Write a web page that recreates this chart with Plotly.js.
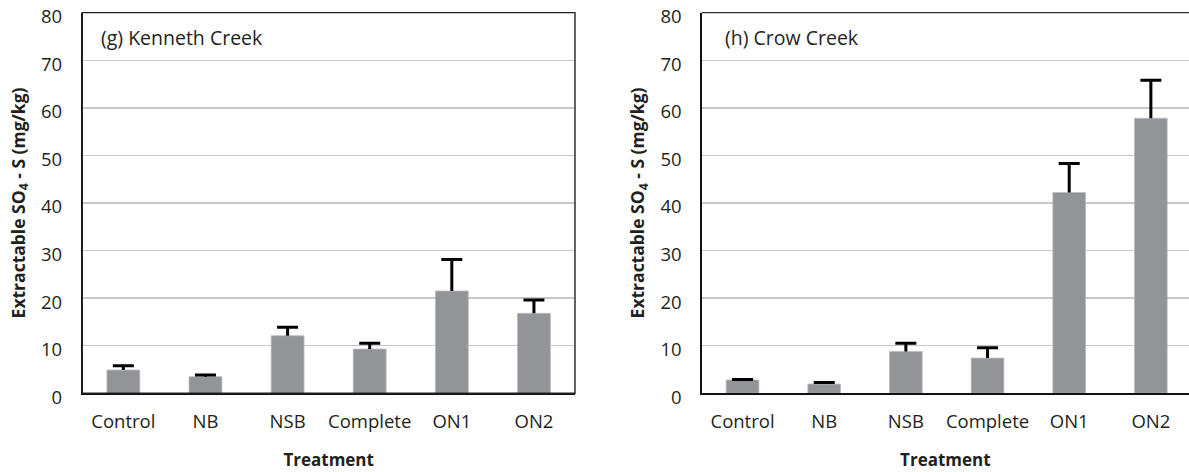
<!DOCTYPE html>
<html>
<head>
<meta charset="utf-8">
<script src="https://cdn.plot.ly/plotly-3.0.1.min.js"></script>
<style>
  html, body { margin: 0; padding: 0; background: #fff; }
  #chart { width: 1189px; height: 472px; }
</style>
</head>
<body>
<div id="chart"></div>
<script>
// Treatments on the x axis
const treatments = ["Control", "NB", "NSB", "Complete", "ON1", "ON2"];

// (g) Kenneth Creek: mean extractable SO4-S (mg/kg) and upper error
const kennethMean = [4.9, 3.5, 12.1, 9.3, 21.5, 16.8];
const kennethErr  = [0.9, 0.35, 1.8, 1.2, 6.6, 2.8];

// (h) Crow Creek: mean extractable SO4-S (mg/kg) and upper error
const crowMean = [2.8, 1.95, 8.8, 7.4, 42.2, 57.8];
const crowErr  = [0.1, 0.3, 1.7, 2.2, 6.1, 8.0];

// Y axis ticks
const yTicks = [0, 10, 20, 30, 40, 50, 60, 70, 80];

const W = 1189, H = 472;
const px = v => v / W;          // horizontal pixel -> paper fraction
const py = v => (H - v) / H;    // vertical pixel (from top) -> paper fraction

const barColor = "#939498";
const textColor = "#231f20";
const fontFamily = "'Open Sans', 'Noto Sans', sans-serif";

function barTrace(y, xa, ya) {
  return {
    type: "bar",
    x: treatments,
    y: y,
    xaxis: xa,
    yaxis: ya,
    width: 0.4,
    marker: { color: barColor, line: { color: "#b9babd", width: 0.8 } },
    hoverinfo: "x+y",
    showlegend: false
  };
}

// One-sided (upper) error whisker: a cap marker at mean + err with a stem down to the bar top
function whiskerTrace(mean, err, xa, ya) {
  return {
    type: "scatter",
    mode: "markers",
    x: treatments,
    y: mean.map((m, i) => m + err[i]),
    xaxis: xa,
    yaxis: ya,
    marker: { symbol: "line-ew", size: 15, line: { color: "#000", width: 3 } },
    error_y: {
      type: "data",
      symmetric: false,
      array: err.map(() => 0),
      arrayminus: err,
      color: "#000",
      thickness: 3,
      width: 0
    },
    hoverinfo: "skip",
    showlegend: false
  };
}

function xAxis(domain, range, anchor) {
  return {
    domain: domain,
    range: range,
    anchor: anchor,
    type: "category",
    showgrid: false,
    showline: true,
    linecolor: "#111",
    linewidth: 1.4,
    ticks: "outside",
    ticklen: 11,
    tickcolor: "rgba(0,0,0,0)",
    tickfont: { family: fontFamily, size: 18.5, color: textColor },
    automargin: false,
    fixedrange: true,
    title: {
      text: "<b>Treatment</b>",
      font: { family: fontFamily, size: 17, color: textColor },
      standoff: 22
    }
  };
}

function yAxis(anchor) {
  return {
    domain: [py(393.3), py(12.6)],
    range: [0, 80.02],
    anchor: anchor,
    tickvals: yTicks,
    showgrid: true,
    gridcolor: "#c8c8c8",
    gridwidth: 1.3,
    zeroline: false,
    showline: true,
    linecolor: "#111",
    linewidth: 1.4,
    ticks: "outside",
    ticklen: 15,
    tickcolor: "rgba(0,0,0,0)",
    ticklabelshift: 4,
    tickfont: { family: fontFamily, size: 18.5, color: textColor },
    automargin: false,
    fixedrange: true,
    title: {
      text: "<b>Extractable SO<sub>4</sub> - S (mg/kg)</b>",
      font: { family: fontFamily, size: 17.5, color: textColor },
      standoff: 11
    }
  };
}

const data = [
  barTrace(kennethMean, "x", "y"),
  whiskerTrace(kennethMean, kennethErr, "x", "y"),
  barTrace(crowMean, "x2", "y2"),
  whiskerTrace(crowMean, crowErr, "x2", "y2")
];

const layout = {
  width: W,
  height: H,
  margin: { l: 0, r: 0, t: 0, b: 0, pad: 0 },
  paper_bgcolor: "#fff",
  plot_bgcolor: "#fff",
  font: { family: fontFamily, color: textColor },
  xaxis: xAxis([px(82.3), px(575)], [-0.5, 5.5], "y"),
  yaxis: yAxis("x"),
  xaxis2: xAxis([px(701.7), 1], [-0.5, 5.467], "y2"),
  yaxis2: yAxis("x2"),
  shapes: [
    // frame around the Kenneth Creek panel
    { type: "rect", xref: "x domain", yref: "y domain", x0: 0, x1: 1, y0: 0, y1: 1,
      line: { color: "#222", width: 1.4 }, layer: "above" },
    // top edge of the Crow Creek panel
    { type: "line", xref: "x2 domain", yref: "y2 domain", x0: 0, x1: 1, y0: 1, y1: 1,
      line: { color: "#333", width: 1.4 }, layer: "above" }
  ],
  annotations: [
    { text: "(g) Kenneth Creek", xref: "paper", yref: "paper",
      x: px(99), y: py(37), xanchor: "left", yanchor: "middle", showarrow: false,
      font: { family: fontFamily, size: 19.5, color: textColor } },
    { text: "(h) Crow Creek", xref: "paper", yref: "paper",
      x: px(723), y: py(37), xanchor: "left", yanchor: "middle", showarrow: false,
      font: { family: fontFamily, size: 19.5, color: textColor } }
  ]
};

Plotly.newPlot("chart", data, layout, { staticPlot: true, displayModeBar: false });
</script>
</body>
</html>
